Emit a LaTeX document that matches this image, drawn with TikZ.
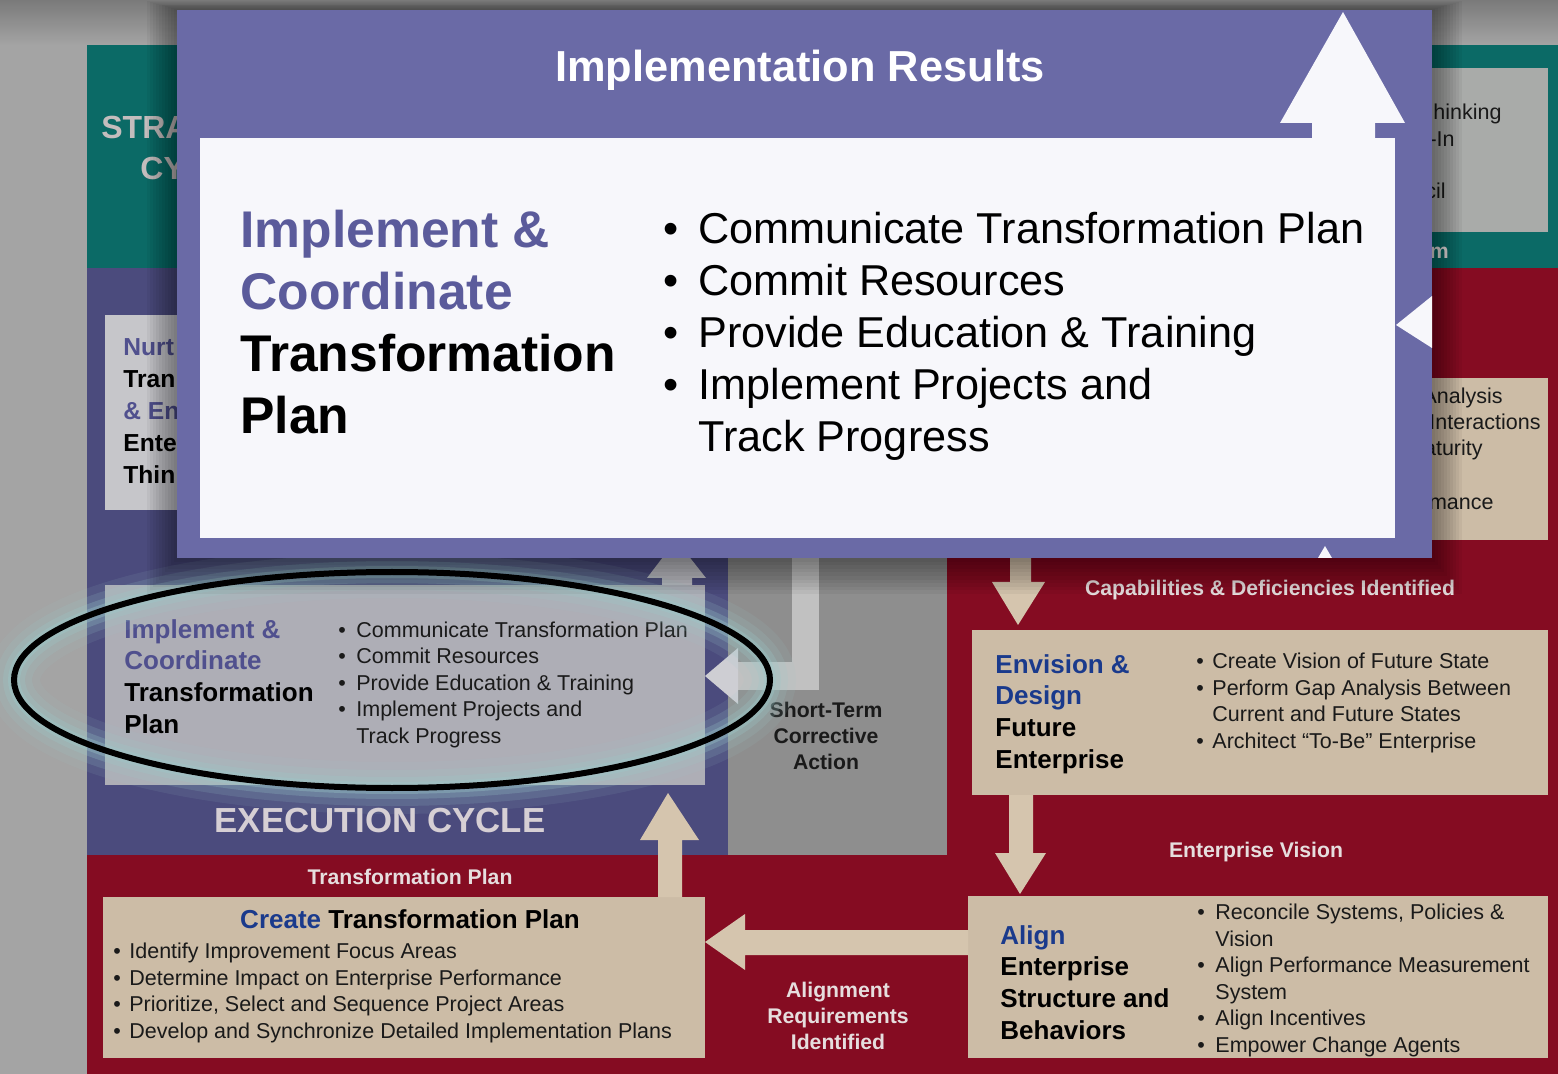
\documentclass[tikz,border=0pt]{standalone}
\usepackage{fontspec}
\setmainfont{Liberation Sans}
\definecolor{bggrey}{HTML}{A4A4A4}
\definecolor{topgrey}{HTML}{7A7A7A}
\definecolor{stteal}{HTML}{0B6A66}
\definecolor{expurple}{HTML}{4B4B7D}
\definecolor{flowred}{HTML}{850C22}
\definecolor{stgrey}{HTML}{8E8E8E}
\definecolor{beige}{HTML}{CCBCA6}
\definecolor{arrowbeige}{HTML}{D5C5AE}
\definecolor{boxgrey}{HTML}{A9ABA9}
\definecolor{impgrey}{HTML}{AEAEB6}
\definecolor{nurtgrey}{HTML}{C6C6CA}
\definecolor{ovpurple}{HTML}{6A6AA6}
\definecolor{ovwhite}{HTML}{F7F7FB}
\definecolor{hdpurple}{HTML}{5B5B9B}
\definecolor{lopurple}{HTML}{50508E}
\definecolor{hdblue}{HTML}{1A3A8C}
\definecolor{lblwhite}{HTML}{E6DEDE}
\definecolor{txtdark}{HTML}{1A1A1A}
\definecolor{glow}{HTML}{9CCACA}
\newcommand{\fsz}[2]{\fontsize{#1}{#2}\selectfont}
\newcommand{\bul}[1]{\makebox[#1][l]{\textbullet}}
\begin{document}
\begin{tikzpicture}[x=0.5pt,y=-0.5pt]
	\tikzset{
		txt/.style={inner sep=0pt, anchor=base west, align=left},
		ovbig/.style={txt, font=\bfseries\fsz{25.8}{31}},
		ovlist/.style={txt, font=\fsz{21.6}{26}},
		subhead/.style={txt, font=\bfseries\fsz{13}{15.8}},
		sublist/.style={txt, font=\fsz{10.75}{13.25}, text=txtdark},
		flow/.style={inner sep=0pt, anchor=base, align=center, font=\bfseries\fsz{10.6}{13}, text=lblwhite},
		frag/.style={inner sep=0pt, anchor=base east, font=\fsz{10.75}{13.25}, text=txtdark},
		blockarrow/.style={fill=arrowbeige},
	}
	\useasboundingbox (0,0) rectangle (1558,1074);
	\fill[bggrey] (0,0) rectangle (1558,1074);
	\shade[top color=topgrey, bottom color=bggrey] (0,0) rectangle (1558,45);
	\fill[stteal] (87,45) rectangle (1558,268);
	\fill[flowred] (87,268) rectangle (1558,1074);
	\fill[expurple] (87,268) rectangle (728,855);
	\fill[stgrey] (728,400) rectangle (947,855);
	\fill[boxgrey] (1400,68) rectangle (1548,232);
	\fill[beige] (1400,378) rectangle (1548,540);
	\fill[nurtgrey] (105,315) rectangle (190,510);
	\node[txt, font=\bfseries\fsz{16}{20}, text=lblwhite!85!black] (stra) at (101,139) {STRA};
	\node[txt, font=\bfseries\fsz{16}{20}, text=lblwhite!85!black] (cy) at (140,180) {CY};
	\node[subhead, font=\bfseries\fsz{12.3}{16}] (nurt) at (123,484) {\textcolor{lopurple}{Nurt}\\Tran\\\textcolor{lopurple}{\& En}\\Ente\\Thin};
	\node[frag] (fhink) at (1502,120) {hinking};
	\node[frag] (fin) at (1455,147) {-In};
	\node[frag] (fcil) at (1446,199) {cil};
	\node[frag, font=\bfseries\fsz{10.6}{13}, text=lblwhite] (fm) at (1449,259) {m};
	\node[frag] (fana) at (1503,404) {Analysis};
	\node[frag] (fint) at (1541,430) {Interactions};
	\node[frag] (fmat) at (1483,456) {aturity};
	\node[frag] (fperf) at (1494,510) {mance};
	\fill[impgrey] (105,585) rectangle (705,785);
	\fill[impgrey!80!white] (647,578) -- (676,540) -- (706,578) -- (692,578) -- (692,585) -- (662,585) -- (662,578) -- cycle;
	\fill[stgrey!55!white] (792,540) rectangle (819,690);
	\fill[stgrey!55!white] (736,662) rectangle (819,690);
	\fill[impgrey!60!white] (705,676) -- (738,648) -- (738,704) -- cycle;
	\node[subhead, text=black] (imphead) at (124,733) {\textcolor{lopurple}{Implement \&}\\\textcolor{lopurple}{Coordinate}\\Transformation\\Plan};
	\node[sublist] (implist) at (338,743) {\bul{9pt}Communicate Transformation Plan\\\bul{9pt}Commit Resources\\\bul{9pt}Provide Education \& Training\\\bul{9pt}Implement Projects and\\\hspace*{9pt}Track Progress};
	\node[flow, text=txtdark] (short) at (826,769) {Short-Term\\Corrective\\Action};
	\foreach \w/\o in {26/0.10,18/0.16,11/0.24,6/0.35}
		\draw[glow, line width=\w pt, opacity=\o] (392,680) ellipse [x radius=378, y radius=108];
	\draw[black, line width=3pt] (392,680) ellipse [x radius=378, y radius=108];
	\node[inner sep=0pt, anchor=base, font=\bfseries\fsz{17.4}{20}, text=lblwhite!90!expurple] (exec) at (380,832) {EXECUTION CYCLE};
	\node[flow] (lbltp) at (410,884) {Transformation Plan};
	\fill[beige] (103,897) rectangle (705,1058);
	\fill[blockarrow] (658,897) -- (658,840) -- (640,840) -- (668,793) -- (699,840) -- (682,840) -- (682,897) -- cycle;
	\node[inner sep=0pt, anchor=base, font=\bfseries\fsz{13}{15.8}] (cphead) at (410,928) {\textcolor{hdblue}{Create} Transformation Plan};
	\node[sublist] (cplist) at (113,1038) {\bul{8pt}Identify Improvement Focus Areas\\\bul{8pt}Determine Impact on Enterprise Performance\\\bul{8pt}Prioritize, Select and Sequence Project Areas\\\bul{8pt}Develop and Synchronize Detailed Implementation Plans};
	\fill[beige] (972,630) rectangle (1548,795);
	\fill[blockarrow] (1010,540) -- (1031,540) -- (1031,582) -- (1045,582) -- (1018,625) -- (992,582) -- (1010,582) -- cycle;
	\node[flow] (lblcap) at (1270,596) {Capabilities \& Deficiencies Identified};
	\node[subhead, text=black] (envhead) at (995,768) {\textcolor{hdblue}{Envision \&}\\\textcolor{hdblue}{Design}\\Future\\Enterprise};
	\node[sublist] (envlist) at (1196,748) {\bul{8pt}Create Vision of Future State\\\bul{8pt}Perform Gap Analysis Between\\\hspace*{8pt}Current and Future States\\\bul{8pt}Architect ``To-Be'' Enterprise};
	\fill[blockarrow] (1009,795) -- (1033,795) -- (1033,853) -- (1046,853) -- (1020,894) -- (995,853) -- (1009,853) -- cycle;
	\node[flow] (lblvis) at (1256,857) {Enterprise Vision};
	\fill[beige] (968,896) rectangle (1548,1058);
	\fill[blockarrow] (968,930) -- (745,930) -- (745,914) -- (705,942) -- (745,970) -- (745,955) -- (968,955) -- cycle;
	\node[flow] (lblalign) at (838,1049) {Alignment\\Requirements\\Identified};
	\node[subhead, text=black] (alhead) at (1000,1039) {\textcolor{hdblue}{Align}\\Enterprise\\Structure and\\Behaviors};
	\node[sublist] (allist) at (1197,1052) {\bul{9pt}Reconcile Systems, Policies \&\\\hspace*{9pt}Vision\\\bul{9pt}Align Performance Measurement\\\hspace*{9pt}System\\\bul{9pt}Align Incentives\\\bul{9pt}Empower Change Agents};
	\foreach \s in {3,6,...,30}
		\fill[black, opacity=0.045] (177-\s,10-0.3*\s) rectangle (1432+\s,558+1.2*\s);
	\fill[ovpurple] (177,10) rectangle (1432,558);
	\fill[ovwhite] (200,138) rectangle (1395,538);
	\fill[ovwhite] (1312,140) -- (1312,123) -- (1280,123) -- (1343,12) -- (1405,123) -- (1375,123) -- (1375,140) -- cycle;
	\fill[ovwhite] (1432,296) -- (1396,325) -- (1432,348) -- cycle;
	\fill[ovwhite] (1318,558) -- (1325,546) -- (1332,558) -- cycle;
	\node[inner sep=0pt, anchor=base, font=\bfseries\fsz{21.7}{26}, text=white] (ovtitle) at (800,82) {Implementation Results};
	\node[ovbig] (ovhead) at (240,434) {\textcolor{hdpurple}{Implement \&}\\\textcolor{hdpurple}{Coordinate}\\Transformation\\Plan};
	\node[ovlist] (ovitems) at (663,452) {\bul{17.5pt}Communicate Transformation Plan\\\bul{17.5pt}Commit Resources\\\bul{17.5pt}Provide Education \& Training\\\bul{17.5pt}Implement Projects and\\\hspace*{17.5pt}Track Progress};
\end{tikzpicture}
\end{document}
